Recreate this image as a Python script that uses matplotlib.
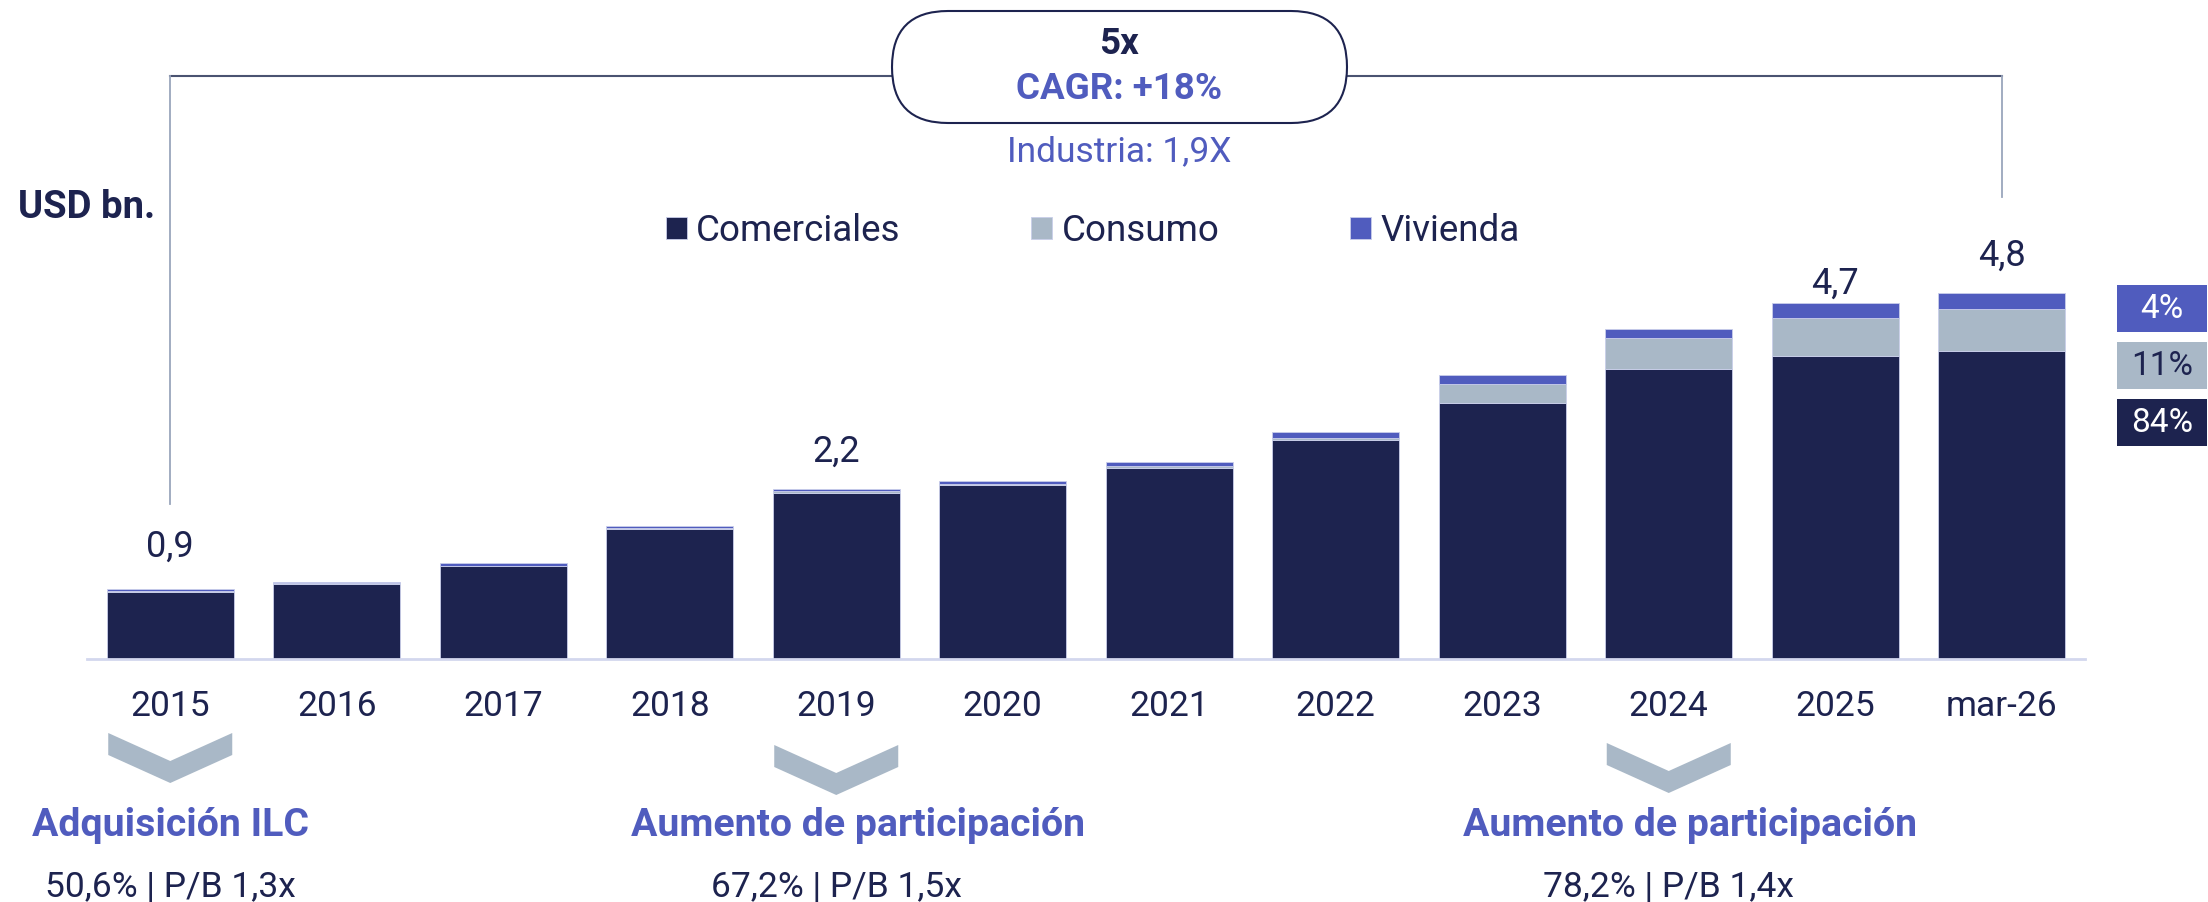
import matplotlib
import numpy as np

matplotlib.use("Agg")
import matplotlib.pyplot as plt  # noqa: E402
from matplotlib.patches import FancyBboxPatch, Polygon, Rectangle  # noqa: E402

plt.rcParams["font.family"] = ["Roboto", "DejaVu Sans"]

# data (USD bn.)
years = ["2015", "2016", "2017", "2018", "2019", "2020", "2021", "2022", "2023", "2024", "2025", "mar-26"]
comerciales = [0.87, 0.98, 1.21, 1.70, 2.17, 2.27, 2.50, 2.86, 3.35, 3.79, 3.96, 4.03]
consumo = [0.02, 0.01, 0.01, 0.01, 0.02, 0.02, 0.025, 0.035, 0.25, 0.40, 0.50, 0.54]
vivienda = [0.02, 0.02, 0.03, 0.03, 0.035, 0.04, 0.055, 0.07, 0.11, 0.13, 0.19, 0.21]
series_names = ["Comerciales", "Consumo", "Vivienda"]
total_labels = {0: "0,9", 4: "2,2", 10: "4,7", 11: "4,8"}
events = [
    (0, "Adquisición ILC", "50,6% | P/B 1,3x"),
    (4, "Aumento de participación", "67,2% | P/B 1,5x"),
    (9, "Aumento de participación", "78,2% | P/B 1,4x"),
]

NAVY = "#1D234F"
BLUE = "#505CBE"
GRAY = "#A9B8C7"
W, H = 2208, 902

fig = plt.figure(figsize=(W / 100, H / 100), dpi=100)
ax = fig.add_axes([87 / W, (H - 659) / H, 1998 / W, 420.75 / H])
x = np.arange(len(years))
com = np.array(comerciales)
con = np.array(consumo)
viv = np.array(vivienda)
tot = com + con + viv

bw = 0.763
edge = dict(edgecolor="#C9CEEA", linewidth=0.6)
b1 = ax.bar(x, com, bw, color=NAVY, label=series_names[0], **edge)
b2 = ax.bar(x, con, bw, bottom=com, color=GRAY, label=series_names[1], **edge)
b3 = ax.bar(x, viv, bw, bottom=com + con, color=BLUE, label=series_names[2], **edge)

ax.set_xlim(-0.5, len(years) - 0.5)
ax.set_ylim(0, 5.5)
ax.set_xticks(x, years)
ax.tick_params(axis="x", length=0, pad=22, labelsize=25.5, labelcolor=NAVY)
ax.set_yticks([])
for s in ["left", "right", "top"]:
    ax.spines[s].set_visible(False)
ax.spines["bottom"].set_color("#D3D7EE")
ax.spines["bottom"].set_linewidth(2)
ax.patch.set_alpha(0)

# total labels above selected bars (offset in points)
label_off = {0: 31, 4: 27, 10: 14, 11: 27}
for i, txt in total_labels.items():
    ax.annotate(txt, xy=(i, tot[i]), xytext=(0, label_off[i]), textcoords="offset points",
                ha="center", va="center", fontsize=26, color=NAVY)

fig.legend([b1, b2, b3], series_names, loc="center left", bbox_to_anchor=(666 / W, 1 - 231 / H),
           ncol=3, frameon=False, fontsize=26.5, handlelength=0.57, handleheight=0.57,
           handletextpad=0.25, columnspacing=3.55, borderpad=0, borderaxespad=0, labelcolor=NAVY)

# overlay in figure pixels (y from top)
ov = fig.add_axes([0, 0, 1, 1])
ov.set_xlim(0, W)
ov.set_ylim(H, 0)
ov.axis("off")
ov.patch.set_alpha(0)


def cx(i):
    return ax.transData.transform((i, 0))[0]


x0, x1 = cx(0), cx(len(years) - 1)
ov.plot([x0, x1], [76, 76], color="#4A5371", lw=1.5, zorder=1)
ov.plot([x0, x0], [76, 504], color="#9AA6BC", lw=1.3, zorder=1)
ov.plot([x1, x1], [76, 197], color="#9AA6BC", lw=1.3, zorder=1)
ov.add_patch(FancyBboxPatch((892, 11), 455, 112, boxstyle="round,pad=0,rounding_size=56",
                            fc="white", ec=NAVY, lw=1.5, zorder=2))
ov.text(1119, 44, "5x", ha="center", va="center", fontsize=26.5, fontweight="bold", color=NAVY, zorder=3)
ov.text(1119, 89, "CAGR: +18%", ha="center", va="center", fontsize=26.5, fontweight="bold", color=BLUE, zorder=3)
ov.text(1119, 152, "Industria: 1,9X", ha="center", va="center", fontsize=25.5, color=BLUE)

ov.text(18, 207, "USD bn.", ha="left", va="center", fontsize=27.5, fontweight="bold", color=NAVY)

# composition boxes for the last bar
shares = [viv[-1] / tot[-1], con[-1] / tot[-1], com[-1] / tot[-1]]
box_style = [(BLUE, "white", 285), (GRAY, NAVY, 342), (NAVY, "white", 399)]
for sh, (fc, tc, top) in zip(shares, box_style):
    ov.add_patch(Rectangle((2117, top), 90, 47, fc=fc, ec="none"))
    ov.text(2162, top + 24, f"{sh * 100:.0f}%", ha="center", va="center", fontsize=24, color=tc)

# event chevrons + captions
chev_top = [733, 745, 743]
title_dx = [0, 22, 21]
for (i, title, sub), t, dx in zip(events, chev_top, title_dx):
    c = cx(i)
    pts = [(c - 62, t), (c, t + 28), (c + 62, t), (c + 62, t + 22), (c, t + 50), (c - 62, t + 22)]
    ov.add_patch(Polygon(pts, closed=True, fc=GRAY, ec="none"))
    ov.text(c + dx, 825, title, ha="center", va="center", fontsize=28.3, fontweight="bold", color=BLUE)
    ov.text(c, 887, sub, ha="center", va="center", fontsize=25.5, color=NAVY)

fig.savefig("out.png", dpi=100, facecolor="white")
